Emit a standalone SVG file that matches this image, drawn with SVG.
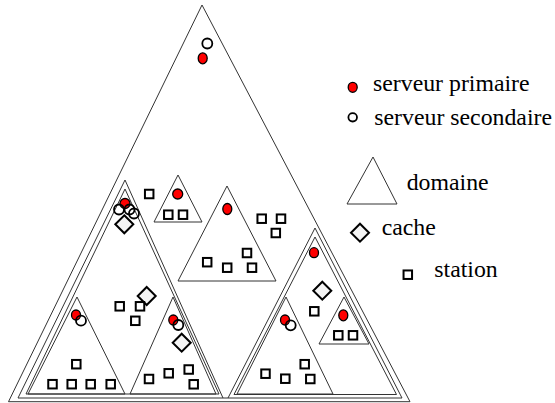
<svg xmlns="http://www.w3.org/2000/svg" width="555" height="403" viewBox="0 0 555 403">
<defs>
<style>
.dom{fill:none;stroke:#333;stroke-width:1}
.pri{fill:#ff0000;stroke:#000;stroke-width:1.3}
.sec{fill:none;stroke:#000;stroke-width:1.8}
.sta{fill:none;stroke:#000;stroke-width:2}
.cac{fill:#f4f4f4;stroke:#000;stroke-width:2}
text{font-family:'Liberation Serif','DejaVu Serif',serif;font-size:23.8px;fill:#000}
</style>
<rect id="st" x="-4.25" y="-4.25" width="8.5" height="8.5" class="sta"/>
<path id="dm" d="M0,-9 L9,0 L0,9 L-9,0 Z" class="cac"/>
</defs>
<rect width="555" height="403" fill="#fff"/>

<g id="root">
<polygon class="dom" points="202,5 8.5,401.7 410,401.7"/>
<ellipse class="pri" cx="202.7" cy="58.3" rx="4.5" ry="5.5"/>
<circle class="sec" cx="207.3" cy="43.5" r="5"/>
</g>

<g id="left-domain">
<polygon class="dom" points="125,180 18,398 223,398"/>
<polygon class="dom" points="125,189 26,394 219,394"/>
<ellipse class="pri" cx="125" cy="203.5" rx="5" ry="5"/>
<circle class="sec" cx="119" cy="209.5" r="5"/>
<circle class="sec" cx="129.5" cy="209.5" r="5"/>
<circle class="sec" cx="134" cy="213.5" r="5"/>
<use href="#dm" x="124.3" y="224.3"/>
<use href="#dm" x="146.7" y="296"/>
<use href="#st" x="119.7" y="306.3"/>
<use href="#st" x="140" y="306.3"/>
<use href="#st" x="135.3" y="320.8"/>
</g>

<g id="leaf-bottom-left">
<polygon class="dom" points="77,297 28,394 125,394"/>
<ellipse class="pri" cx="76" cy="315" rx="4.5" ry="5"/>
<circle class="sec" cx="81" cy="320.7" r="5"/>
<use href="#st" x="76.3" y="364.2"/>
<use href="#st" x="52.5" y="384.2"/>
<use href="#st" x="71.7" y="384.2"/>
<use href="#st" x="90.7" y="384.2"/>
<use href="#st" x="110.7" y="384.2"/>
</g>

<g id="leaf-bottom-middle">
<polygon class="dom" points="173,297 130,394 216,394"/>
<ellipse class="pri" cx="173.3" cy="320" rx="4.5" ry="5"/>
<circle class="sec" cx="178.3" cy="325" r="5"/>
<use href="#dm" x="181.7" y="342.7"/>
<use href="#st" x="149" y="379"/>
<use href="#st" x="168.7" y="373.3"/>
<use href="#st" x="188.7" y="369.5"/>
<use href="#st" x="193.7" y="384.3"/>
</g>

<g id="leaf-top-small">
<polygon class="dom" points="178,175 154,222 202,222"/>
<ellipse class="pri" cx="177.7" cy="194" rx="5" ry="5"/>
<use href="#st" x="168.3" y="214.7"/>
<use href="#st" x="183" y="214.7"/>
</g>

<g id="station-top">
<use href="#st" x="149.2" y="194"/>
</g>

<g id="middle-domain">
<polygon class="dom" points="227,186 178,281 276,281"/>
<ellipse class="pri" cx="227.3" cy="209" rx="4.5" ry="5.5"/>
<use href="#st" x="207.2" y="262.2"/>
<use href="#st" x="227.2" y="267.7"/>
<use href="#st" x="247" y="253"/>
<use href="#st" x="252" y="267.7"/>
</g>

<g id="stations-right">
<use href="#st" x="261.7" y="218.7"/>
<use href="#st" x="281" y="218.7"/>
<use href="#st" x="275.8" y="233"/>
</g>

<g id="right-domain">
<polygon class="dom" points="315,228 228,398 402,398"/>
<polygon class="dom" points="315,237 234,394.5 396.5,394.5"/>
<line class="dom" x1="223" y1="398" x2="228" y2="398"/>
<ellipse class="pri" cx="314" cy="252.7" rx="4.5" ry="5"/>
<use href="#dm" x="322.3" y="290.7"/>
<use href="#st" x="314.3" y="311.3"/>
</g>

<g id="leaf-right-small">
<polygon class="dom" points="344,297 319,344 369,344"/>
<ellipse class="pri" cx="343.3" cy="315.3" rx="4.5" ry="5.5"/>
<use href="#st" x="338.3" y="335.3"/>
<use href="#st" x="353" y="335.3"/>
</g>

<g id="leaf-bottom-right">
<polygon class="dom" points="286,297 237,394 333,394"/>
<ellipse class="pri" cx="285" cy="320" rx="4.5" ry="5"/>
<circle class="sec" cx="290.7" cy="325.3" r="5"/>
<use href="#st" x="265.5" y="373.7"/>
<use href="#st" x="285.3" y="378.7"/>
<use href="#st" x="304.7" y="364.2"/>
<use href="#st" x="310.3" y="379"/>
</g>

<g id="legend">
<ellipse class="pri" cx="352.7" cy="87.3" rx="4.5" ry="5"/>
<text x="373" y="90.5">serveur primaire</text>
<ellipse cx="352.7" cy="117.3" rx="4.3" ry="4.2" fill="#fff" stroke="#000" stroke-width="1.8"/>
<text x="374.3" y="125">serveur secondaire</text>
<polygon class="dom" points="373,157 347,204 397,204"/>
<text x="406.7" y="190">domaine</text>
<use href="#dm" x="360" y="232.7"/>
<text x="381.7" y="235">cache</text>
<use href="#st" x="407.8" y="274.7"/>
<text x="434.3" y="276.7">station</text>
</g>
</svg>
